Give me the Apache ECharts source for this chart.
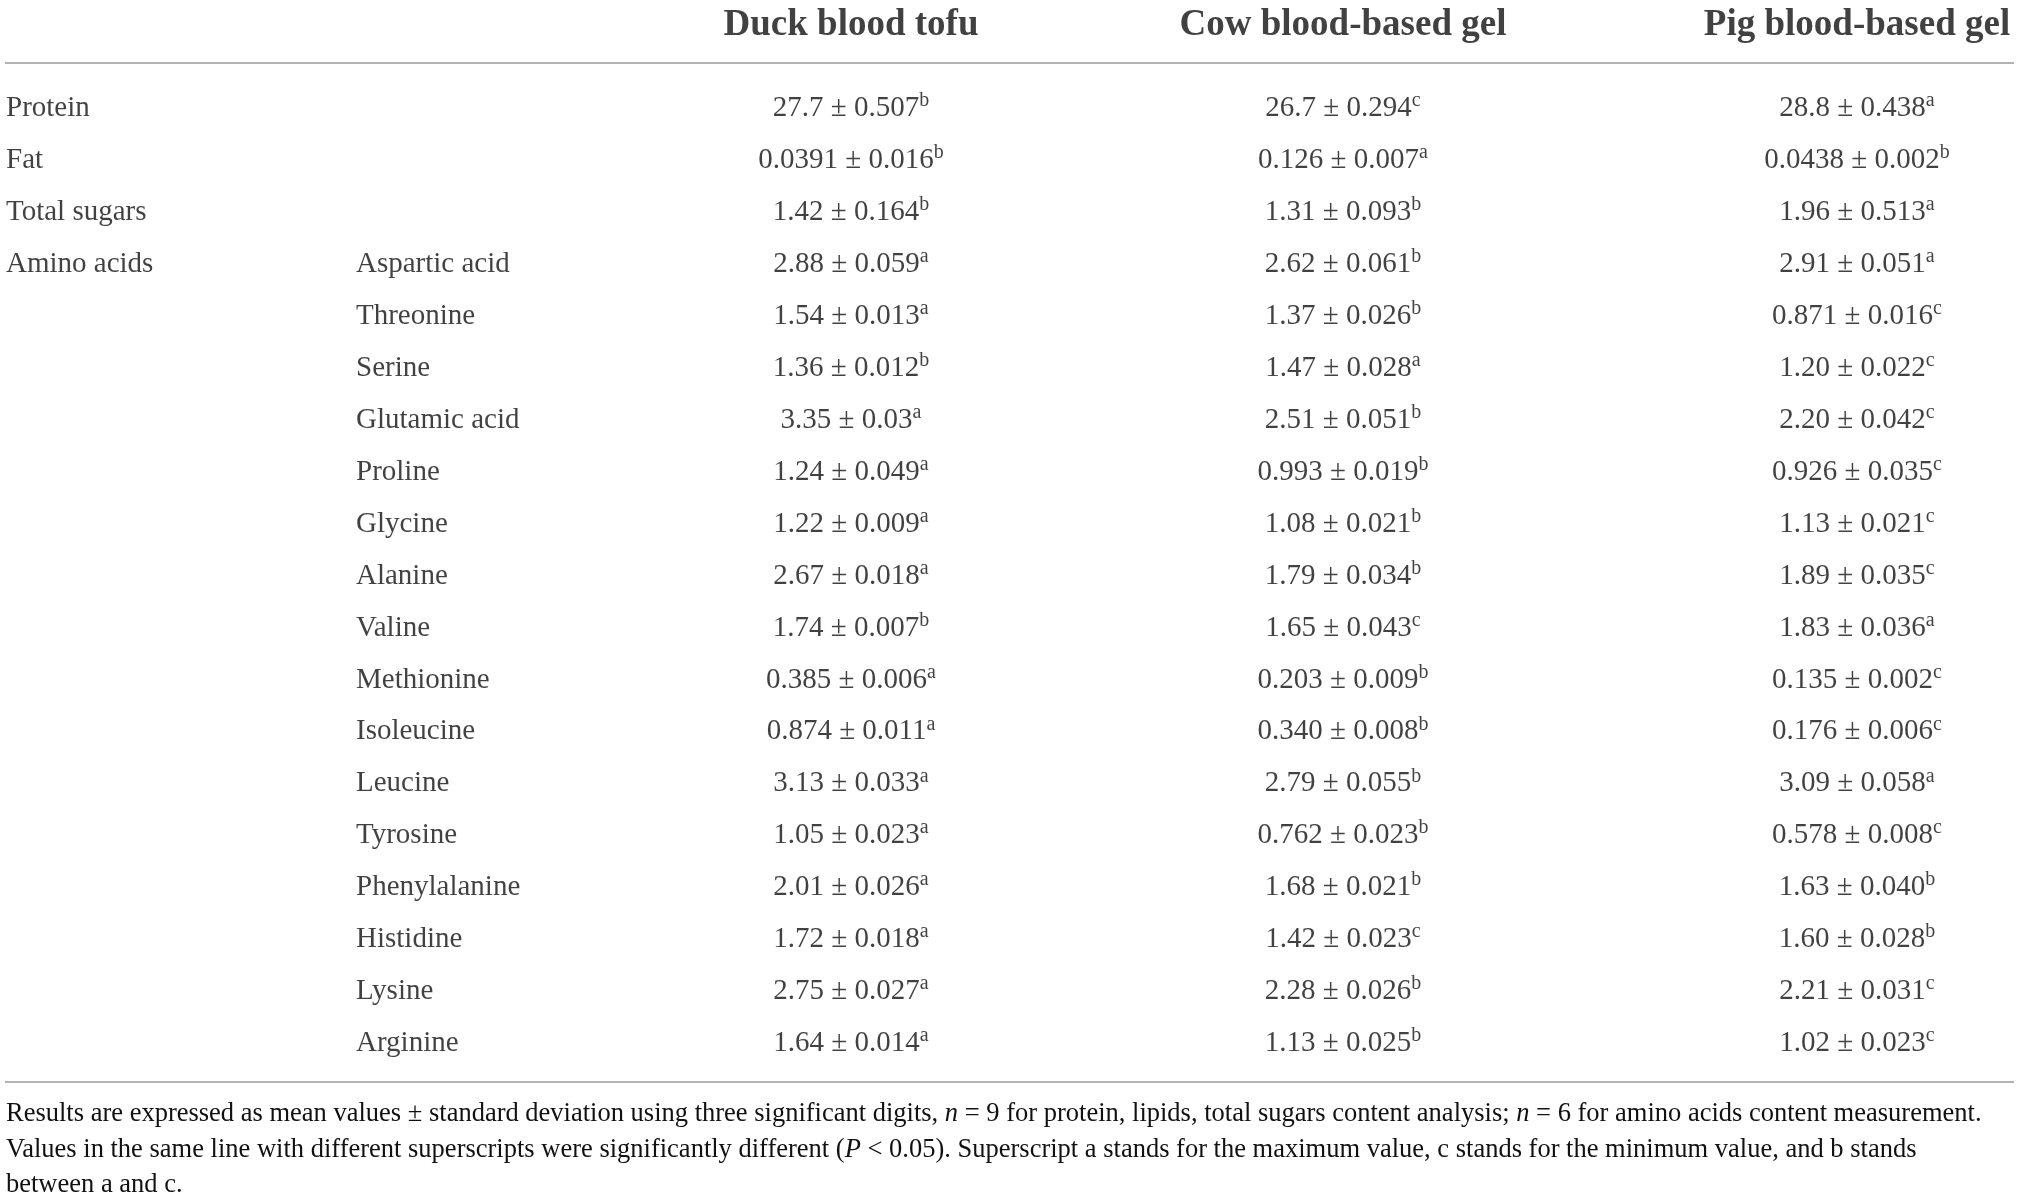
<!DOCTYPE html>
<html><head><meta charset="utf-8">
<script src="https://cdn.jsdelivr.net/npm/echarts@6/dist/echarts.min.js"></script>
<style>html,body{margin:0;padding:0;background:#fff}#c{width:2019px;height:1204px}</style>
</head><body><div id="c"></div>
<script>
// ---------- data ----------
const columns = ['Duck blood tofu', 'Cow blood-based gel', 'Pig blood-based gel'];
const groups = ['Protein', 'Fat', 'Total sugars', 'Amino acids', '', '', '', '', '', '', '', '', '', '', '', '', '', '', ''];
const items = ['', '', '', 'Aspartic acid', 'Threonine', 'Serine', 'Glutamic acid', 'Proline', 'Glycine', 'Alanine',
  'Valine', 'Methionine', 'Isoleucine', 'Leucine', 'Tyrosine', 'Phenylalanine', 'Histidine', 'Lysine', 'Arginine'];

const duckMean = ['27.7', '0.0391', '1.42', '2.88', '1.54', '1.36', '3.35', '1.24', '1.22', '2.67', '1.74', '0.385', '0.874', '3.13', '1.05', '2.01', '1.72', '2.75', '1.64'];
const duckSd   = ['0.507', '0.016', '0.164', '0.059', '0.013', '0.012', '0.03', '0.049', '0.009', '0.018', '0.007', '0.006', '0.011', '0.033', '0.023', '0.026', '0.018', '0.027', '0.014'];
const duckSup  = ['b', 'b', 'b', 'a', 'a', 'b', 'a', 'a', 'a', 'a', 'b', 'a', 'a', 'a', 'a', 'a', 'a', 'a', 'a'];

const cowMean = ['26.7', '0.126', '1.31', '2.62', '1.37', '1.47', '2.51', '0.993', '1.08', '1.79', '1.65', '0.203', '0.340', '2.79', '0.762', '1.68', '1.42', '2.28', '1.13'];
const cowSd   = ['0.294', '0.007', '0.093', '0.061', '0.026', '0.028', '0.051', '0.019', '0.021', '0.034', '0.043', '0.009', '0.008', '0.055', '0.023', '0.021', '0.023', '0.026', '0.025'];
const cowSup  = ['c', 'a', 'b', 'b', 'b', 'a', 'b', 'b', 'b', 'b', 'c', 'b', 'b', 'b', 'b', 'b', 'c', 'b', 'b'];

const pigMean = ['28.8', '0.0438', '1.96', '2.91', '0.871', '1.20', '2.20', '0.926', '1.13', '1.89', '1.83', '0.135', '0.176', '3.09', '0.578', '1.63', '1.60', '2.21', '1.02'];
const pigSd   = ['0.438', '0.002', '0.513', '0.051', '0.016', '0.022', '0.042', '0.035', '0.021', '0.035', '0.036', '0.002', '0.006', '0.058', '0.008', '0.040', '0.028', '0.031', '0.023'];
const pigSup  = ['a', 'b', 'a', 'a', 'c', 'c', 'c', 'c', 'c', 'c', 'a', 'c', 'c', 'a', 'c', 'b', 'b', 'c', 'c'];

const footLines = [
  '{t|Results are expressed as mean values ± standard deviation using three significant digits, }{i|n}{t| = 9 for protein, lipids, total sugars content analysis; }{i|n}{t| = 6 for amino acids content measurement.}',
  '{t|Values in the same line with different superscripts were significantly different (}{i|P}{t| < 0.05). Superscript a stands for the maximum value, c stands for the minimum value, and b stands}',
  '{t|between a and c.}'
];

// ---------- layout / style ----------
const FONT = '"Liberation Serif", "Times New Roman", serif';
const INK = '#111111';
const RULE = '#9a9a9a';
const L = { groupX: 6, itemX: 356, colX: [851, 1343, 1857] };

const rows = groups.map((g, i) => items[i] || g);

const chart = echarts.init(document.getElementById('c'), null, { renderer: 'canvas' });

function textSeries(name, gridIdx, yData, x, texts, align, labelStyle) {
  return {
    name, type: 'scatter', xAxisIndex: gridIdx, yAxisIndex: gridIdx,
    symbolSize: 1, itemStyle: { color: 'rgba(0,0,0,0)' }, silent: true,
    data: texts.map((t, i) => t ? { value: [x, yData[i]], name: t } : null).filter(Boolean),
    label: Object.assign({
      show: true, position: 'inside', align, verticalAlign: 'middle',
      formatter: p => p.name
    }, labelStyle)
  };
}

const bodyLabel = { fontFamily: FONT, fontSize: 29, color: INK };
const valueRich = {
  v: { fontFamily: FONT, fontSize: 29, color: INK, lineHeight: 35 },
  s: { fontFamily: FONT, fontSize: 20, color: INK, lineHeight: 20, verticalAlign: 'top' }
};

function valueSeries(name, x, means, sds, sups) {
  const texts = means.map((m, i) => `{v|${m} ± ${sds[i]}}{s|${sups[i]}}`);
  return textSeries(name, 0, rows, x, texts, 'center', { rich: valueRich, formatter: p => p.name });
}

const FOOT_LH = 35.8;
const option = {
  backgroundColor: '#ffffff',
  animation: false,
  grid: [
    { left: 0, right: 0, top: 82.5, height: 987 },
    { left: 0, right: 0, top: 4, height: 42 }
  ],
  xAxis: [
    { type: 'value', gridIndex: 0, min: 0, max: 2019, show: false },
    { type: 'value', gridIndex: 1, min: 0, max: 2019, show: false }
  ],
  yAxis: [
    { type: 'category', gridIndex: 0, data: rows, inverse: true, show: false },
    { type: 'category', gridIndex: 1, data: ['header'], show: false }
  ],
  title: {
    left: 6, top: 1096, padding: 0,
    text: footLines.join('\n'),
    textStyle: {
      fontWeight: 'normal', fontFamily: FONT, fontSize: 26.5, lineHeight: FOOT_LH, color: INK,
      rich: {
        t: { fontFamily: FONT, fontSize: 26.5, fontWeight: 'normal', color: INK, lineHeight: FOOT_LH },
        i: { fontFamily: FONT, fontSize: 26.5, fontWeight: 'normal', color: INK, lineHeight: FOOT_LH, fontStyle: 'italic' }
      }
    }
  },
  graphic: [
    { type: 'line', shape: { x1: 5, y1: 63, x2: 2014, y2: 63 }, style: { stroke: RULE, lineWidth: 1.5 }, silent: true },
    { type: 'line', shape: { x1: 5, y1: 1082, x2: 2014, y2: 1082 }, style: { stroke: RULE, lineWidth: 1.5 }, silent: true }
  ],
  series: [
    textSeries('groups', 0, rows, L.groupX, groups, 'left', bodyLabel),
    textSeries('items', 0, rows, L.itemX, items, 'left', bodyLabel),
    valueSeries(columns[0], L.colX[0], duckMean, duckSd, duckSup),
    valueSeries(columns[1], L.colX[1], cowMean, cowSd, cowSup),
    valueSeries(columns[2], L.colX[2], pigMean, pigSd, pigSup),
    ...columns.map((c, k) => textSeries('header' + k, 1, ['header'], L.colX[k], [c], 'center',
      { fontFamily: FONT, fontSize: 37, fontWeight: 'bold', color: INK }))
  ]
};
chart.setOption(option);
</script></body></html>
